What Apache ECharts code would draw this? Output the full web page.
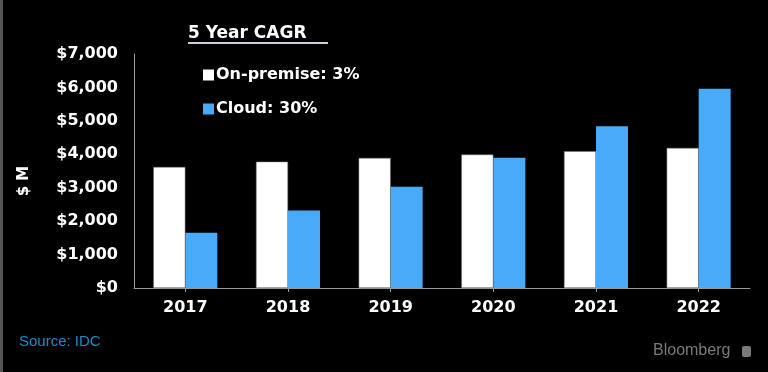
<!DOCTYPE html>
<html>
<head>
<meta charset="utf-8">
<script src="https://cdn.jsdelivr.net/npm/echarts@6/dist/echarts.min.js"></script>
<style>
html,body{margin:0;padding:0;background:#000;}
#c{width:768px;height:372px;}
</style>
</head>
<body>
<div id="c"></div>
<script>
var years = ['2017', '2018', '2019', '2020', '2021', '2022'];
var onPremise = [3620, 3780, 3890, 3990, 4090, 4190];
var cloud = [1650, 2320, 3030, 3900, 4840, 5960];
var seriesNames = ['On-premise: 3%', 'Cloud: 30%'];
var titleText = '5 Year CAGR';
var axisName = '$ M';
var sourceText = 'Source: IDC';
var brandText = 'Bloomberg';

var FONT = 'DejaVu Sans';
var chart = echarts.init(document.getElementById('c'), null, {renderer: 'canvas'});
chart.setOption({
  backgroundColor: '#000',
  animation: false,
  grid: {left: 134, right: 18, top: 54, bottom: 84},
  legend: {
    orient: 'vertical', left: 198, top: 62, itemGap: 18,
    itemWidth: 11, itemHeight: 11, icon: 'rect',
    itemStyle: {borderWidth: 0},
    textStyle: {color: '#fff', fontSize: 16, fontWeight: 'bold', fontFamily: FONT, padding: [0, 0, 0, -3]},
    data: seriesNames
  },
  xAxis: {
    type: 'category', data: years,
    axisLine: {lineStyle: {color: '#9a9a9a', width: 1}},
    axisTick: {show: true, alignWithLabel: true, length: 4, lineStyle: {color: '#9a9a9a'}},
    axisLabel: {color: '#fff', fontSize: 16, fontWeight: 'bold', fontFamily: FONT, margin: 12}
  },
  yAxis: {
    type: 'value', min: 0, max: 7000, interval: 1000,
    splitLine: {show: false},
    axisLine: {show: true, lineStyle: {color: '#9a9a9a', width: 1}},
    axisTick: {show: false},
    axisLabel: {
      color: '#fff', fontSize: 16, fontWeight: 'bold', fontFamily: FONT, margin: 16,
      formatter: function (v) { return '$' + v.toLocaleString('en-US'); }
    }
  },
  series: [
    {name: seriesNames[0], type: 'bar', data: onPremise, barWidth: 32, barGap: '0%',
     itemStyle: {color: '#ffffff', borderColor: '#777', borderWidth: 0.5}},
    {name: seriesNames[1], type: 'bar', data: cloud, barWidth: 32,
     itemStyle: {color: '#48aaf8'}}
  ],
  graphic: [
    {type: 'rect', left: 0, top: 0, shape: {width: 3, height: 372}, style: {fill: '#555'}},
    {type: 'text', left: 188, top: 25, style: {text: titleText, fill: '#fff', font: 'bold 17px "DejaVu Sans"'}},
    {type: 'line', shape: {x1: 188, y1: 43, x2: 328, y2: 43}, style: {stroke: '#c8d0e0', lineWidth: 2}},
    {type: 'text', x: 24, y: 181, rotation: Math.PI / 2, style: {text: axisName, fill: '#fff', font: 'bold 15px "DejaVu Sans"', align: 'center', verticalAlign: 'middle'}},
    {type: 'text', left: 19, top: 334, style: {text: sourceText, fill: '#1b8cc4', font: '15px "Liberation Sans Narrow", "Liberation Sans", sans-serif'}},
    {type: 'text', left: 653, top: 343, style: {text: brandText, fill: '#7a7a7a', font: '16px "Liberation Sans Narrow", "Liberation Sans", sans-serif'}},
    {type: 'rect', left: 742, top: 346, shape: {width: 9, height: 11, r: 2}, style: {fill: '#7a7a7a'}}
  ]
});
</script>
</body>
</html>
